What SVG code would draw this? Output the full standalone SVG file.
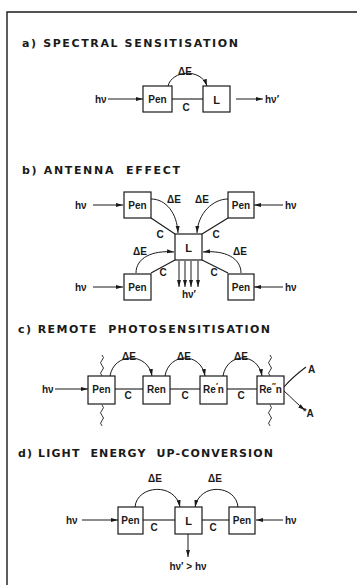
<svg xmlns="http://www.w3.org/2000/svg" width="357" height="585" viewBox="0 0 357 585">
<defs>
<marker id="ah" markerUnits="userSpaceOnUse" markerWidth="8" markerHeight="5" refX="7" refY="2.5" orient="auto">
<path d="M0,0.5 L7,2.5 L0,4.5 z" fill="#1a1a1a"/>
</marker>
<style>
.box{fill:#fff;stroke:#1a1a1a;stroke-width:1.2}
.ln{fill:none;stroke:#1a1a1a;stroke-width:1.1}
.arr{fill:none;stroke:#1a1a1a;stroke-width:1;marker-end:url(#ah)}
.wv{fill:none;stroke:#1a1a1a;stroke-width:0.9}
.t{font-family:"DejaVu Sans","Liberation Sans",Arial,sans-serif;font-weight:bold;font-size:11px;fill:#1a1a1a;white-space:pre}
.lb{font-family:"Liberation Sans",Arial,sans-serif;font-weight:bold;font-size:10px;fill:#1a1a1a;text-anchor:middle}
.lbs{font-family:"Liberation Sans",Arial,sans-serif;font-weight:bold;font-size:10px;fill:#1a1a1a}
.big{font-size:11px}
</style>
</defs>
<rect width="357" height="585" fill="#fff"/>
<!-- frame -->
<path d="M7,585 L7,12 L357,12" fill="none" stroke="#1a1a1a" stroke-width="1.4"/>

<!-- titles -->
<text class="t" x="22" y="47" textLength="216" lengthAdjust="spacing">a) SPECTRAL SENSITISATION</text>
<text class="t" x="22" y="174" textLength="158" lengthAdjust="spacing" xml:space="preserve">b) ANTENNA  EFFECT</text>
<text class="t" x="18" y="333" textLength="252" lengthAdjust="spacing" xml:space="preserve">c) REMOTE  PHOTOSENSITISATION</text>
<text class="t" x="18" y="457" textLength="255" lengthAdjust="spacing" xml:space="preserve">d) LIGHT  ENERGY  UP-CONVERSION</text>

<!-- connectors -->
<g id="connectors">
  <!-- a -->
  <line class="ln" x1="172" y1="99" x2="203" y2="99"/>
  <path class="arr" d="M168,86 C172,70 201,68 207,86"/>
  <line class="arr" x1="108" y1="99" x2="143" y2="99"/>
  <line class="arr" x1="236" y1="99" x2="263" y2="99"/>
  <!-- b -->
  <line class="arr" x1="93" y1="205" x2="123" y2="205"/>
  <line class="arr" x1="283" y1="205" x2="254" y2="205"/>
  <line class="arr" x1="93" y1="287" x2="123" y2="287"/>
  <line class="arr" x1="283" y1="287" x2="254" y2="287"/>
  <line class="ln" x1="151" y1="218" x2="175" y2="234"/>
  <line class="ln" x1="228" y1="218" x2="202" y2="234"/>
  <line class="ln" x1="151" y1="273" x2="175" y2="260"/>
  <line class="ln" x1="228" y1="273" x2="202" y2="260"/>
  <path class="arr" d="M151,199 C166,199 177,213 178,233"/>
  <path class="arr" d="M228,199 C213,199 198,213 197,233"/>
  <path class="arr" d="M136,273 C136,258 152,250 174,252"/>
  <path class="arr" d="M241,273 C241,258 225,250 203,252"/>
  <line class="arr" x1="179" y1="261" x2="179" y2="287"/>
  <line class="arr" x1="185" y1="261" x2="185" y2="287"/>
  <line class="arr" x1="191" y1="261" x2="191" y2="287"/>
  <line class="arr" x1="198" y1="261" x2="198" y2="287"/>
  <!-- c -->
  <line class="arr" x1="55" y1="389" x2="88" y2="389"/>
  <line class="ln" x1="115" y1="389" x2="143" y2="389"/>
  <line class="ln" x1="170" y1="389" x2="200" y2="389"/>
  <line class="ln" x1="227" y1="389" x2="257" y2="389"/>
  <path class="arr" d="M110,376 C114,352 148,352 152,376"/>
  <path class="arr" d="M165,376 C169,352 201,352 205,376"/>
  <path class="arr" d="M223,376 C227,352 258,352 262,376"/>
  <path class="wv" d="M102,355 q3,2.6 0,5.2 q-3,2.6 0,5.2 q3,2.6 0,5.2 q-3,2.6 0,5.2"/>
  <path class="wv" d="M102,405 q3,2.6 0,5.2 q-3,2.6 0,5.2 q3,2.6 0,5.2 q-3,2.6 0,5.2"/>
  <path class="wv" d="M270,355 q3,2.6 0,5.2 q-3,2.6 0,5.2 q3,2.6 0,5.2 q-3,2.6 0,5.2"/>
  <path class="wv" d="M270,405 q3,2.6 0,5.2 q-3,2.6 0,5.2 q3,2.6 0,5.2 q-3,2.6 0,5.2"/>
  <path class="ln" d="M284,387 C290,380 298,373 306,367"/>
  <path class="arr" d="M284,391 C291,397 297,404 305,410"/>
  <!-- d -->
  <line class="arr" x1="82" y1="520" x2="118" y2="520"/>
  <line class="arr" x1="283" y1="520" x2="256" y2="520"/>
  <line class="ln" x1="143" y1="520" x2="175" y2="520"/>
  <line class="ln" x1="202" y1="520" x2="229" y2="520"/>
  <path class="arr" d="M135,507 C137,485 175,482 180,507"/>
  <path class="arr" d="M238,507 C236,485 200,482 195,507"/>
  <line class="arr" x1="188" y1="534" x2="188" y2="557"/>
</g>

<!-- labels -->
<g id="labels">
  <text class="lb" x="185" y="75">ΔE</text>
  <text class="lb" x="186" y="111">C</text>
  <text class="lbs" x="95" y="103">hν</text>
  <text class="lbs" x="265" y="103">hν′</text>

  <text class="lbs" x="75" y="209">hν</text>
  <text class="lbs" x="285" y="209">hν</text>
  <text class="lbs" x="75" y="291">hν</text>
  <text class="lbs" x="285" y="291">hν</text>
  <text class="lb" x="174" y="203">ΔE</text>
  <text class="lb" x="202" y="203">ΔE</text>
  <text class="lb" x="140" y="255">ΔE</text>
  <text class="lb" x="240" y="255">ΔE</text>
  <text class="lb" x="160" y="238">C</text>
  <text class="lb" x="216" y="238">C</text>
  <text class="lb" x="163" y="276">C</text>
  <text class="lb" x="214" y="276">C</text>
  <text class="lb" x="189" y="298">hν′</text>

  <text class="lbs" x="42" y="393">hν</text>
  <text class="lb" x="129" y="360">ΔE</text>
  <text class="lb" x="184" y="360">ΔE</text>
  <text class="lb" x="241" y="360">ΔE</text>
  <text class="lb" x="128" y="399">C</text>
  <text class="lb" x="185" y="399">C</text>
  <text class="lb" x="241" y="399">C</text>
  <text class="lbs" x="308" y="373">A</text>
  <text class="lbs" x="303" y="417"><tspan font-size="9" dy="-3">*</tspan><tspan dy="3">A</tspan></text>

  <text class="lbs" x="66" y="524">hν</text>
  <text class="lbs" x="285" y="524">hν</text>
  <text class="lb" x="155" y="482">ΔE</text>
  <text class="lb" x="215" y="482">ΔE</text>
  <text class="lb" x="154" y="531">C</text>
  <text class="lb" x="213" y="531">C</text>
  <text class="lb" x="188" y="570">hν′ &gt; hν</text>
</g>

<!-- nodes -->
<g id="a-pen"><rect class="box" x="143" y="86" width="29" height="26"/><text class="lb" x="157.5" y="103">Pen</text></g>
<g id="a-L"><rect class="box" x="203" y="86" width="27" height="26"/><text class="lb big" x="216.5" y="103.5">L</text></g>

<g id="b-pen-tl"><rect class="box" x="124" y="192" width="27" height="26"/><text class="lb" x="137.5" y="209">Pen</text></g>
<g id="b-pen-tr"><rect class="box" x="228" y="192" width="26" height="26"/><text class="lb" x="241" y="209">Pen</text></g>
<g id="b-L"><rect class="box" x="175" y="234" width="27" height="26"/><text class="lb big" x="188.5" y="251.5">L</text></g>
<g id="b-pen-bl"><rect class="box" x="124" y="274" width="27" height="26"/><text class="lb" x="137.5" y="291">Pen</text></g>
<g id="b-pen-br"><rect class="box" x="228" y="274" width="26" height="26"/><text class="lb" x="241" y="291">Pen</text></g>

<g id="c-pen"><rect class="box" x="88" y="376" width="27" height="28"/><text class="lb" x="101.5" y="393">Pen</text></g>
<g id="c-ren"><rect class="box" x="143" y="376" width="27" height="28"/><text class="lb" x="156.5" y="393">Ren</text></g>
<g id="c-ren1"><rect class="box" x="200" y="376" width="27" height="28"/><text class="lb" x="213.5" y="393">Re<tspan dy="-5" font-size="8">′</tspan><tspan dy="5">n</tspan></text></g>
<g id="c-ren2"><rect class="box" x="257" y="376" width="27" height="28"/><text class="lb" x="270.5" y="393">Re<tspan dy="-5" font-size="8">″</tspan><tspan dy="5">n</tspan></text></g>

<g id="d-pen-l"><rect class="box" x="118" y="507" width="25" height="27"/><text class="lb" x="130.5" y="524">Pen</text></g>
<g id="d-L"><rect class="box" x="175" y="507" width="27" height="27"/><text class="lb big" x="188.5" y="524.5">L</text></g>
<g id="d-pen-r"><rect class="box" x="229" y="507" width="26" height="27"/><text class="lb" x="242" y="524">Pen</text></g>
</svg>
